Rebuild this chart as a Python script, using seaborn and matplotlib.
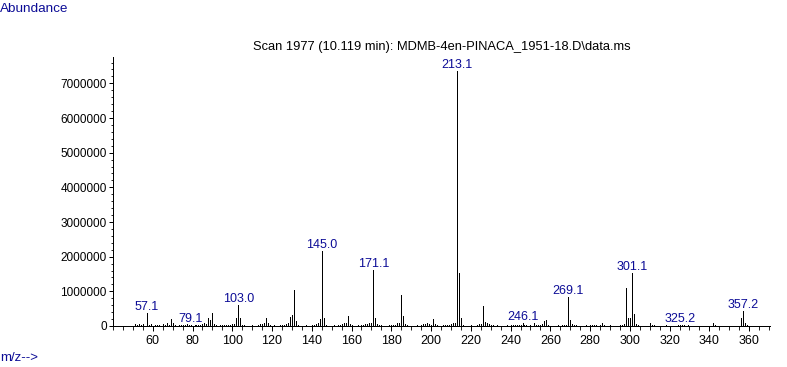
import numpy as np
import pandas as pd
import matplotlib
matplotlib.use("Agg")
import matplotlib.pyplot as plt
import matplotlib.ticker as mticker
import seaborn as sns

# Peak list (m/z, abundance in millions)
mz = [51, 52, 53, 54, 55, 57, 58, 59, 61, 62, 63, 65, 66, 67, 68, 69, 70, 71, 73, 74,
      75, 76, 77, 78, 79, 81, 82, 83, 84, 85, 86, 87, 88, 89, 90, 91, 92, 94, 95, 96,
      97, 98, 99, 100, 101, 102, 103, 104, 105, 106, 110, 113, 114, 115, 116, 117, 118, 119, 121, 124,
      125, 126, 127, 128, 129, 130, 131, 132, 133, 137, 140, 141, 142, 143, 144, 145, 146, 147, 151, 153,
      154, 155, 156, 157, 158, 159, 160, 163, 165, 166, 167, 168, 169, 170, 171, 172, 173, 174, 175, 179,
      180, 181, 182, 183, 184, 185, 186, 187, 188, 193, 195, 196, 197, 198, 199, 200, 201, 202, 203, 206,
      207, 208, 209, 210, 211, 212, 213, 214, 215, 216, 220, 223, 224, 225, 226, 227, 228, 229, 230, 231,
      233, 238, 240, 241, 242, 243, 244, 245, 246, 247, 248, 250, 252, 253, 254, 255, 256, 257, 258, 259,
      264, 266, 267, 268, 269, 270, 271, 272, 273, 278, 280, 281, 282, 283, 285, 286, 287, 290, 295, 296,
      297, 298, 299, 300, 301, 302, 303, 304, 310, 311, 312, 318, 324, 325, 326, 327, 329, 342, 343, 356,
      357, 358, 359]
abund_m = [0.05, 0.03, 0.05, 0.03, 0.06, 0.37, 0.04, 0.06, 0.03, 0.04, 0.03, 0.05, 0.04, 0.10, 0.04, 0.20, 0.09, 0.03, 0.03, 0.03,
           0.03, 0.03, 0.05, 0.03, 0.03, 0.03, 0.03, 0.04, 0.03, 0.05, 0.09, 0.05, 0.22, 0.16, 0.37, 0.06, 0.03, 0.03, 0.03, 0.03,
           0.03, 0.03, 0.04, 0.05, 0.05, 0.23, 0.60, 0.23, 0.04, 0.03, 0.02, 0.03, 0.05, 0.06, 0.09, 0.22, 0.09, 0.03, 0.03, 0.02,
           0.03, 0.04, 0.05, 0.09, 0.26, 0.31, 1.03, 0.13, 0.03, 0.03, 0.03, 0.04, 0.06, 0.09, 0.20, 2.15, 0.23, 0.04, 0.03, 0.04,
           0.04, 0.07, 0.10, 0.10, 0.28, 0.06, 0.03, 0.02, 0.03, 0.04, 0.05, 0.07, 0.08, 0.08, 1.61, 0.22, 0.05, 0.03, 0.02, 0.03,
           0.03, 0.03, 0.04, 0.08, 0.08, 0.89, 0.28, 0.05, 0.03, 0.03, 0.03, 0.05, 0.05, 0.10, 0.05, 0.04, 0.20, 0.05, 0.03, 0.03,
           0.04, 0.03, 0.04, 0.06, 0.08, 0.08, 7.37, 1.52, 0.22, 0.03, 0.02, 0.03, 0.05, 0.07, 0.57, 0.12, 0.08, 0.05, 0.04, 0.03,
           0.03, 0.02, 0.03, 0.03, 0.04, 0.03, 0.03, 0.04, 0.10, 0.04, 0.03, 0.03, 0.10, 0.04, 0.03, 0.03, 0.05, 0.13, 0.16, 0.04,
           0.03, 0.03, 0.03, 0.04, 0.83, 0.16, 0.05, 0.03, 0.03, 0.02, 0.03, 0.03, 0.03, 0.03, 0.03, 0.08, 0.03, 0.02, 0.02, 0.03,
           0.05, 1.10, 0.22, 0.22, 1.52, 0.34, 0.06, 0.03, 0.09, 0.04, 0.03, 0.02, 0.03, 0.04, 0.04, 0.03, 0.02, 0.08, 0.03, 0.22,
           0.44, 0.10, 0.03]

label_mz = [57.1, 79.1, 103.0, 145.0, 171.1, 213.1, 246.1, 269.1, 301.1, 325.2, 357.2]
label_text = ["57.1", "79.1", "103.0", "145.0", "171.1", "213.1", "246.1", "269.1", "301.1", "325.2", "357.2"]

title = "Scan 1977 (10.119 min): MDMB-4en-PINACA_1951-18.D\\data.ms"

df = pd.DataFrame({"mz": mz, "abundance": np.array(abund_m) * 1e6})

sns.set_style("ticks")
plt.rcParams["font.family"] = ["Liberation Sans", "DejaVu Sans"]
plt.rcParams["font.size"] = 8.5

W, H = 787, 367
fig = plt.figure(figsize=(W / 100, H / 100), dpi=100)
ax = fig.add_axes([113 / W, 1 - 326 / H, (770 - 113) / W, (326 - 57) / H])

# stick spectrum
ax.vlines(df["mz"], 0, df["abundance"], colors="black", linewidth=0.72, antialiased=False)

navy = "#0c0c96"
lookup = dict(zip(df["mz"], df["abundance"]))
for pos, txt in zip(label_mz, label_text):
    h = lookup[int(round(pos))]
    ax.annotate(txt, (pos, h), xytext=(0, 3), textcoords="offset pixels",
                ha="center", va="baseline", color=navy, fontsize=9)

ax.set_xlim(40, 370.5)
ax.set_ylim(0, 7.76e6)
ax.xaxis.set_major_locator(mticker.FixedLocator(range(60, 361, 20)))
ax.xaxis.set_minor_locator(mticker.MultipleLocator(5))
ax.yaxis.set_major_locator(mticker.MultipleLocator(1e6))
ax.yaxis.set_minor_locator(mticker.MultipleLocator(2e5))
ax.yaxis.set_major_formatter(mticker.FuncFormatter(lambda v, p: "%d" % v))

sns.despine(ax=ax)
for s in ["left", "bottom"]:
    ax.spines[s].set_linewidth(0.72)
    ax.spines[s].set_color("black")
ax.tick_params(axis="x", which="major", length=3.4, width=0.72, pad=3.2, labelsize=9, colors="black")
ax.tick_params(axis="x", which="minor", length=3.0, width=0.72)
ax.tick_params(axis="y", which="major", length=3.0, width=0.72, pad=1.5, labelsize=8.5, colors="black")
ax.tick_params(axis="y", which="minor", length=1.6, width=0.72)

fig.text(441.5 / W, 1 - 50 / H, title, ha="center", va="baseline", fontsize=9.3, color="black")
fig.text(0, 1 - 12 / H, "Abundance", ha="left", va="baseline", fontsize=9.7, color=navy)
fig.text(0, 1 - 361 / H, "m/z-->", ha="left", va="baseline", fontsize=9.5, color=navy)

fig.savefig("out.png", dpi=100)
